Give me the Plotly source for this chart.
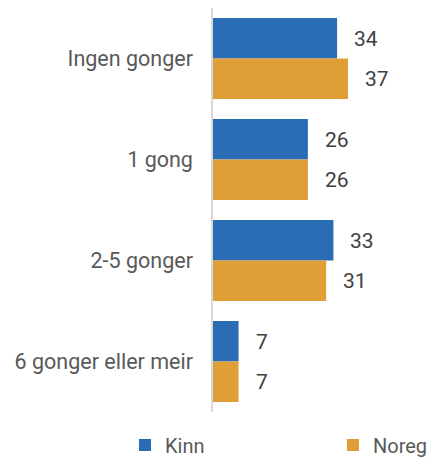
import plotly.graph_objects as go

categories = ["Ingen gonger", "1 gong", "2-5 gonger", "6 gonger eller meir"]
kinn = [34, 26, 33, 7]
noreg = [37, 26, 31, 7]
series_names = ["Kinn", "Noreg"]
colors = ["#2a6db5", "#e09e36"]

FONT = "Roboto"
W, H = 428, 449  # page body adds an 8px margin

fig = go.Figure()
for i, (name, vals, col) in enumerate(zip(series_names, [kinn, noreg], colors)):
    fig.add_trace(go.Bar(
        y=categories, x=vals, name=name, orientation="h",
        marker=dict(color=col, line=dict(width=0)),
        legend="legend" if i == 0 else "legend2",
    ))

# value labels
for i, vals in enumerate([kinn, noreg]):
    shift = 20 if i == 0 else -20
    for c, v in zip(categories, vals):
        fig.add_annotation(
            x=v, y=c, text=str(v), showarrow=False,
            xanchor="left", yanchor="middle", xshift=15, yshift=shift,
            font=dict(family=FONT, size=21, color="#404040"),
        )

leg_common = dict(
    orientation="h", xref="container", yref="container",
    y=12 / H, xanchor="left", yanchor="middle",
    font=dict(family=FONT, size=20, color="#595959"),
    itemclick=False, itemwidth=30, bgcolor="rgba(0,0,0,0)",
)

fig.update_layout(
    width=W, height=H,
    margin=dict(l=205, r=0, t=0, b=45, autoexpand=False),
    barmode="group", bargap=0.2, bargroupgap=0,
    plot_bgcolor="white", paper_bgcolor="white",
    font=dict(family=FONT, size=21, color="#595959"),
    showlegend=True,
    legend=dict(x=117 / W, **leg_common),
    legend2=dict(x=325 / W, **leg_common),
)
fig.update_xaxes(range=[0, 61.1], visible=False, showgrid=False, zeroline=False,
                 automargin=False)
fig.update_yaxes(
    autorange="reversed", showline=True, linecolor="#d9d9d9", linewidth=1.5,
    ticks="", ticklabelstandoff=14, showgrid=False, automargin=False,
    tickfont=dict(family=FONT, size=21.5, color="#595959"),
)

fig.write_html("out.html")
